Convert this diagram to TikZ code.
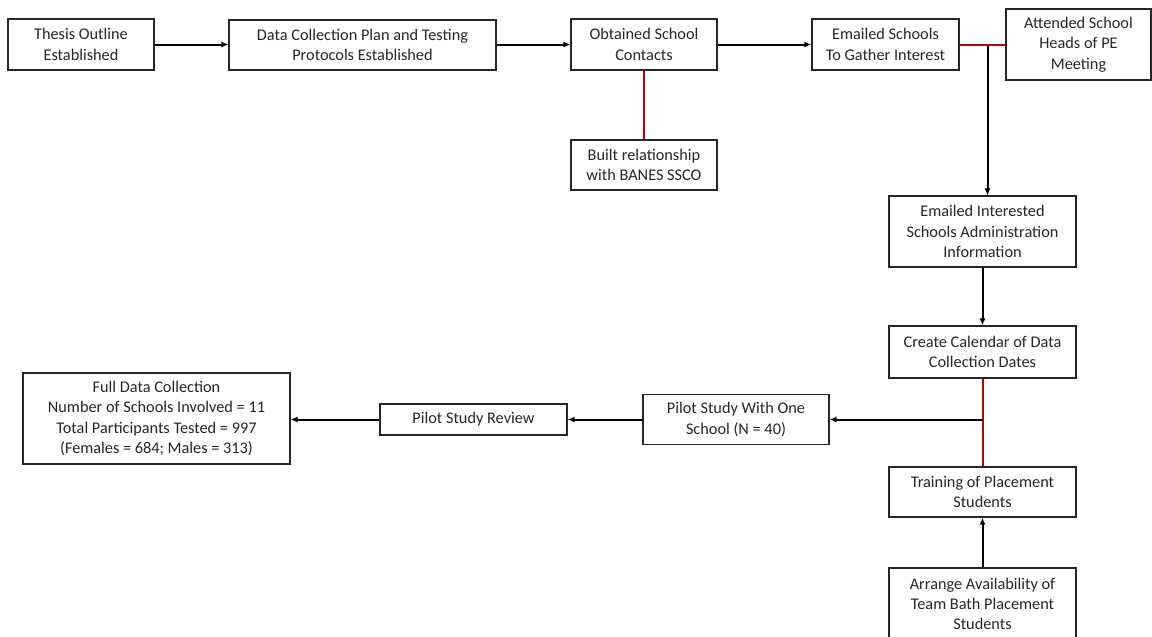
\documentclass[tikz,border=0pt]{standalone}
\usepackage{fontspec}
\setmainfont{Carlito}
\usetikzlibrary{arrows.meta}
\definecolor{darkred}{RGB}{192,0,0}
\begin{document}
\begin{tikzpicture}[x=1pt,y=-1pt,
  box/.style={draw=black!85, line width=1.1pt, align=center, inner sep=0pt,
    font=\fontsize{16.3pt}{20.3pt}\selectfont, text=black!85},
  arr/.style={line width=2pt, -{Latex[length=7pt,width=6pt]}},
  redl/.style={line width=2pt, darkred}]
\useasboundingbox (0,0) rectangle (1152,637);
\node[box, minimum width=146, minimum height=51] (thesis) at (81,44.5) {Thesis Outline\\Established};
\node[box, minimum width=267, minimum height=50] (data) at (362.5,45) {Data Collection Plan and Testing\\Protocols Established};
\node[box, minimum width=146, minimum height=51] (obtained) at (644,44.5) {Obtained School\\Contacts};
\node[box, minimum width=147, minimum height=51] (emailed) at (885.5,44.5) {Emailed Schools\\To Gather Interest};
\node[box, minimum width=145, minimum height=71] (attended) at (1078.5,44.5) {Attended School\\Heads of PE\\Meeting};
\node[box, minimum width=146, minimum height=50] (built) at (644,165) {Built relationship\\with BANES SSCO};
\node[box, minimum width=187, minimum height=71] (emint) at (982.5,231.5) {Emailed Interested\\Schools Administration\\Information};
\node[box, minimum width=187, minimum height=52] (calendar) at (982.5,352) {Create Calendar of Data\\Collection Dates};
\node[box, minimum width=187, minimum height=50] (training) at (982.5,492) {Training of Placement\\Students};
\node[box, minimum width=187, minimum height=72] (arrange) at (982.5,604) {Arrange Availability of\\Team Bath Placement\\Students};
\node[box, minimum width=186, minimum height=50] (pilot1) at (736,419.5) {Pilot Study With One\\School (N = 40)};
\node[box, minimum width=187, minimum height=31] (review) at (473.5,419.5) {Pilot Study Review};
\node[box, minimum width=267, minimum height=91] (full) at (156.5,418.5) {Full Data Collection\\Number of Schools Involved = 11\\Total Participants Tested = 997\\(Females = 684; Males = 313)};
\coordinate (j1) at (987.5,44.5);
\coordinate (j2) at (982.5,419.5);
\draw[arr] (thesis.east) -- (data.west |- thesis.east);
\draw[arr] (data.east |- thesis.east) -- (obtained.west);
\draw[arr] (obtained.east) -- (emailed.west);
\draw[redl] (obtained.south) -- (built.north);
\draw[redl] (emailed.east) -- (attended.west);
\draw[arr] (j1) -- (j1 |- emint.north);
\draw[arr] (emint.south) -- (calendar.north);
\draw[redl] (calendar.south) -- (training.north);
\draw[line width=2pt] (j2) -- ++(-1,0);
\draw[arr] (j2) -- (pilot1.east);
\draw[arr] (pilot1.west) -- (review.east);
\draw[arr] (review.west) -- (full.east |- review.west);
\draw[arr] (arrange.north) -- (training.south);
\end{tikzpicture}
\end{document}
